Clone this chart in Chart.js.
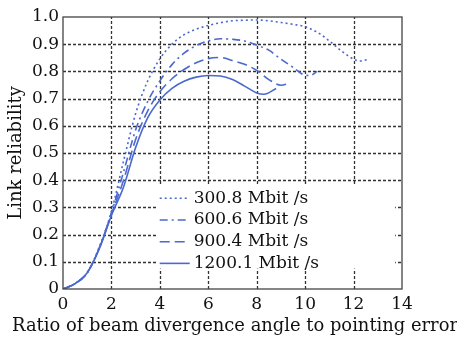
<!DOCTYPE html>
<html>
<head>
<meta charset="utf-8">
<script src="https://cdn.jsdelivr.net/npm/chart.js@4.4.1/dist/chart.umd.min.js"></script>
<style>
  html, body { margin: 0; padding: 0; background: #fff; }
  #wrap { width: 457px; height: 340px; }
</style>
</head>
<body>
<div id="wrap"><canvas id="myChart"></canvas></div>
<script>
const seriesNames = ["300.8 Mbit /s", "600.6 Mbit /s", "900.4 Mbit /s", "1200.1 Mbit /s"];
const xTitle = "Ratio of beam divergence angle to pointing error";
const yTitle = "Link reliability";

const x300 = [0, 0.5, 1, 1.5, 2, 2.5, 3, 3.5, 4, 4.5, 5, 5.5, 6, 6.5, 7, 7.5, 8, 8.5, 9, 9.5, 10, 10.5, 11, 11.5, 12, 12.25, 12.55];
const y300 = [0, 0.02, 0.06, 0.155, 0.285, 0.47, 0.645, 0.765, 0.846, 0.9, 0.935, 0.955, 0.969, 0.979, 0.986, 0.988, 0.989, 0.986, 0.98, 0.973, 0.964, 0.944, 0.912, 0.875, 0.845, 0.838, 0.843];

const x600 = [0, 0.5, 1, 1.5, 2, 2.5, 3, 3.5, 4, 4.5, 5, 5.5, 6, 6.5, 7, 7.5, 8, 8.5, 9, 9.5, 10, 10.2, 10.5];
const y600 = [0, 0.02, 0.06, 0.152, 0.28, 0.43, 0.585, 0.69, 0.765, 0.825, 0.867, 0.895, 0.912, 0.92, 0.918, 0.912, 0.897, 0.878, 0.845, 0.815, 0.786, 0.785, 0.8];

const x900 = [0, 0.5, 1, 1.5, 2, 2.5, 3, 3.5, 4, 4.5, 5, 5.5, 6, 6.5, 7, 7.5, 8, 8.5, 9, 9.4];
const y900 = [0, 0.02, 0.06, 0.15, 0.275, 0.4, 0.55, 0.655, 0.725, 0.773, 0.807, 0.832, 0.847, 0.851, 0.84, 0.826, 0.804, 0.77, 0.749, 0.758];

const x1200 = [0, 0.5, 1, 1.5, 2, 2.5, 3, 3.5, 4, 4.5, 5, 5.5, 6, 6.5, 7, 7.5, 8, 8.3, 8.8];
const y1200 = [0, 0.02, 0.06, 0.148, 0.27, 0.375, 0.52, 0.63, 0.695, 0.738, 0.764, 0.779, 0.785, 0.783, 0.77, 0.746, 0.721, 0.716, 0.737];

const xTicks = [0, 2, 4, 6, 8, 10, 12, 14];
const yTicks = [0, 0.1, 0.2, 0.3, 0.4, 0.5, 0.6, 0.7, 0.8, 0.9, 1.0];

const blue = "#4a68cf";
const dashes = [[2, 3], [8, 4, 2, 4], [10, 5], []];
const fontFam = "'DejaVu Serif', 'Liberation Serif', serif";

function pts(xs, ys) {
  return xs.map((x, i) => ({ x: x, y: ys[i] }));
}

const allData = [pts(x300, y300), pts(x600, y600), pts(x900, y900), pts(x1200, y1200)];

// dotted grid, drawn from the scales
const gridPlugin = {
  id: "dotgrid",
  beforeDatasetsDraw(chart) {
    const ctx = chart.ctx;
    const a = chart.chartArea;
    const sx = chart.scales.x;
    const sy = chart.scales.y;
    ctx.save();
    ctx.strokeStyle = "#333";
    ctx.lineWidth = 1.3;
    ctx.setLineDash([3, 2]);
    xTicks.slice(1, -1).forEach((v) => {
      const p = Math.round(sx.getPixelForValue(v)) + 0.5;
      ctx.beginPath();
      ctx.moveTo(p, a.bottom);
      ctx.lineTo(p, a.top);
      ctx.stroke();
    });
    yTicks.slice(1, -1).forEach((v) => {
      const p = Math.round(sy.getPixelForValue(v)) + 0.5;
      ctx.beginPath();
      ctx.moveTo(a.left, p);
      ctx.lineTo(a.right, p);
      ctx.stroke();
    });
    ctx.restore();
  }
};

// frame, legend inside the plot, and the x title (wider than the axis)
const framePlugin = {
  id: "frame",
  afterDatasetsDraw(chart) {
    const ctx = chart.ctx;
    const a = chart.chartArea;
    const sx = chart.scales.x;
    const sy = chart.scales.y;
    ctx.save();
    const bx = sx.getPixelForValue(3.87);
    const by = sy.getPixelForValue(0.385);
    const bx2 = sx.getPixelForValue(13.72);
    const by2 = sy.getPixelForValue(0.075);
    ctx.fillStyle = "#fff";
    ctx.fillRect(bx, by, bx2 - bx, by2 - by);
    ctx.font = "17px " + fontFam;
    ctx.textBaseline = "middle";
    ctx.fillStyle = "#111";
    seriesNames.forEach((name, i) => {
      const yy = by + 14 + i * 21.7;
      ctx.beginPath();
      ctx.setLineDash(dashes[i]);
      ctx.strokeStyle = blue;
      ctx.lineWidth = 1.6;
      ctx.moveTo(bx + 3, yy);
      ctx.lineTo(bx + 33, yy);
      ctx.stroke();
      ctx.setLineDash([]);
      ctx.fillText(name, bx + 37, yy);
    });
    ctx.strokeStyle = "#444";
    ctx.lineWidth = 1.3;
    ctx.strokeRect(a.left, a.top, a.right - a.left, a.bottom - a.top);

    ctx.font = "17.9px " + fontFam;
    ctx.textAlign = "left";
    ctx.fillText(xTitle, 12, 326);
    ctx.restore();
  }
};

const ctx = document.querySelector("#myChart").getContext("2d");
const chart = new Chart(ctx, {
  type: "scatter",
  data: {
    datasets: seriesNames.map((name, i) => ({
      label: name,
      data: allData[i],
      showLine: true,
      borderColor: blue,
      backgroundColor: blue,
      borderWidth: 1.6,
      borderDash: dashes[i],
      pointRadius: 0,
      cubicInterpolationMode: "monotone",
    })),
  },
  options: {
    responsive: true,
    maintainAspectRatio: false,
    animation: false,
    layout: { padding: { left: 0, right: 55, top: 17, bottom: 0 } },
    plugins: { legend: { display: false }, tooltip: { enabled: false } },
    scales: {
      x: {
        type: "linear",
        min: 0,
        max: 14,
        afterBuildTicks: (s) => { s.ticks = xTicks.map((v) => ({ value: v })); },
        afterFit: (s) => { s.height = 51; },
        ticks: { color: "#111", font: { family: fontFam, size: 17 }, padding: 5, maxRotation: 0 },
        grid: { display: false, drawTicks: false },
        border: { display: false },
        title: { display: false },
      },
      y: {
        type: "linear",
        min: 0,
        max: 1,
        afterBuildTicks: (s) => { s.ticks = yTicks.map((v) => ({ value: v })); },
        afterFit: (s) => { s.width = 63; },
        ticks: { color: "#111", font: { family: fontFam, size: 17 }, padding: 4, callback: (v) => (v === 0 ? "0" : v.toFixed(1)) },
        grid: { display: false, drawTicks: false },
        border: { display: false },
        title: { display: true, text: yTitle, color: "#111", font: { family: fontFam, size: 18 }, padding: { top: 6, bottom: 0 } },
      },
    },
  },
  plugins: [gridPlugin, framePlugin],
});
</script>
</body>
</html>
